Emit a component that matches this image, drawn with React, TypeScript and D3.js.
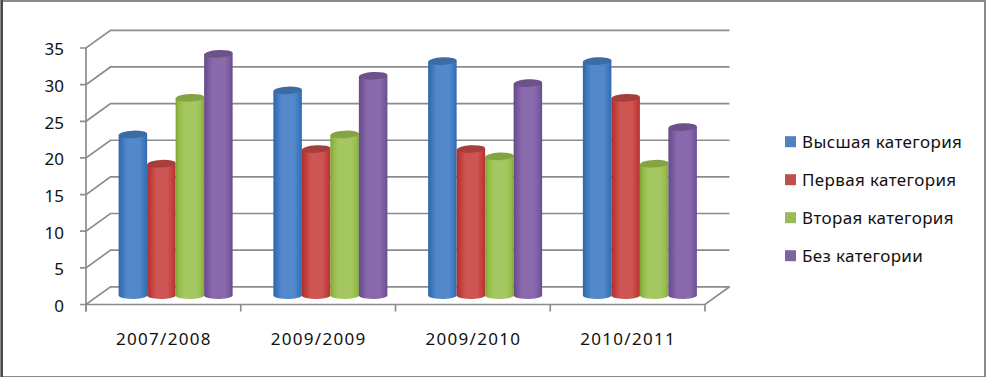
import React from "react";
import * as d3 from "d3";

const categories = ["2007/2008", "2009/2009", "2009/2010", "2010/2011"];
const seriesNames = ["Высшая категория", "Первая категория", "Вторая категория", "Без категории"];
const highest = [22, 28, 32, 32];
const first = [18, 20, 20, 27];
const second = [27, 22, 19, 18];
const none = [33, 30, 29, 23];
const seriesValues = [highest, first, second, none];
const colors = ["#4f81bd", "#c0504d", "#9bbb59", "#8064a2"];
const bodyColors = ["#5389ca", "#cd5553", "#a5c762", "#896bad"];
const yTicks = [0, 5, 10, 15, 20, 25, 30, 35];

const W = 986, H = 377;
const DX = 24.5, DY = -17.7;
const x0 = 86, x1 = 705, yB = 304.5, yT = 48;
const yS = d3.scaleLinear().domain([0, 35]).range([yB, yT]);
const xS = d3.scaleBand().domain(categories).range([x0, x1]);
const gridColor = "#8c8c8c";
const font = "'Noto Sans', sans-serif";

function shade(c: string, k: number) {
  return d3.hsl(c).darker(k).formatHex();
}

export default function App() {
  const inner = d3.scaleBand().domain(seriesNames).range([0, xS.bandwidth()]).paddingOuter(0.715).paddingInner(0);
  const bw = inner.bandwidth();
  const mx = DX / 2, my = DY / 2;
  const ry = 3.8;
  return (
    <svg width={W} height={H} style={{ position: "absolute", left: 0, top: 0, background: "#fff" }}>
      <defs>
        {bodyColors.map((c, i) => (
          <linearGradient id={"g" + i} key={c} x1="0" x2="1" y1="0" y2="0">
            <stop offset="0" stopColor={shade(c, 0.85)} />
            <stop offset="0.12" stopColor={shade(c, 0.4)} />
            <stop offset="0.3" stopColor={c} />
            <stop offset="0.72" stopColor={c} />
            <stop offset="0.9" stopColor={shade(c, 0.35)} />
            <stop offset="1" stopColor={shade(c, 0.75)} />
          </linearGradient>
        ))}
      </defs>
      <rect x={0} y={0} width={W} height={H} fill="#8a8a8a" />
      <rect x={3} y={2} width={W - 5} height={H - 3} fill="#fff" />
      <rect x={1} y={0} width={2} height={H} fill="#4a4a4a" />

      {yTicks.map((t) => (
        <g key={t} stroke={gridColor} strokeWidth={1.7} fill="none">
          <path d={`M${x0 - 6},${yS(t)}H${x0}L${x0 + DX},${yS(t) + DY}H${x1 + DX}`} />
        </g>
      ))}
      <path d={`M${x0},${yT}V${yB + 7}M${x0},${yB}H${x1}L${x1 + DX},${yB + DY}`} stroke={gridColor} strokeWidth={1.7} fill="none" />
      {[...categories.map((c) => xS(c) as number), x1].map((x) => (
        <line key={x} x1={x} x2={x} y1={yB} y2={yB + 7} stroke={gridColor} strokeWidth={1.7} />
      ))}

      {yTicks.map((t) => (
        <text key={t} x={64} y={yS(t) + 1.2} dy="0.36em" textAnchor="end" fontFamily={font} fontSize={17} fill="#111">{t}</text>
      ))}
      {categories.map((c) => (
        <text key={c} x={(xS(c) as number) + xS.bandwidth() / 2 + 0.5} y={345} textAnchor="middle" fontFamily={font} fontSize={17} letterSpacing={1.3} fill="#111">{c}</text>
      ))}

      {categories.map((c, ci) =>
        seriesNames.map((s, si) => {
          const v = seriesValues[si][ci];
          const x = (xS(c) as number) + (inner(s) as number) + mx;
          const yb = yS(0) + my;
          const yt = yS(v) + my;
          const r = bw / 2;
          return (
            <g key={c + s}>
              <path d={`M${x},${yt + 0.8}V${yb}A${r},${ry} 0 0 0 ${x + bw},${yb - 1}V${yt - 0.8}Z`} fill={`url(#g${si})`} />
              <ellipse cx={x + r} cy={yt} rx={r} ry={ry} transform={`rotate(-3 ${x + r} ${yt})`} fill={shade(colors[si], 0.5)} />
            </g>
          );
        })
      )}

      {seriesNames.map((s, i) => {
        const y = 141.7 + i * 38;
        return (
          <g key={s}>
            <rect x={785} y={y - 5.5} width={11} height={11} fill={colors[i]} />
            <text x={802} y={y} dy="0.36em" fontFamily={font} fontSize={17} letterSpacing={0.37} fill="#111">{s}</text>
          </g>
        );
      })}
    </svg>
  );
}
